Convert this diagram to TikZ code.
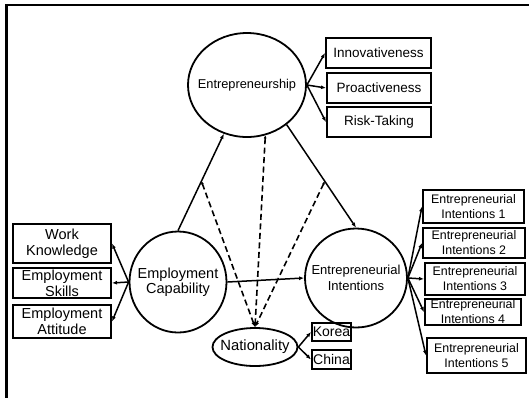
\documentclass[tikz,border=0pt]{standalone}
\usepackage{fontspec}
\setmainfont{Liberation Sans}
\usetikzlibrary{shapes.geometric,arrows.meta}
\tikzset{
latent/.style={
  ellipse,
  draw,
  line width=1.8pt,
  inner sep=0pt
},
latenttext/.style={
  align=center,
  font=\fontsize{14.5}{15.5}\selectfont
},
indicator/.style={
  rectangle,
  draw,
  line width=2pt,
  inner sep=0pt,
  align=center,
  font=\fontsize{13.5}{15}\selectfont
},
effect/.style={
  -{Latex[length=5pt,width=4pt]},
  line width=1.5pt
},
moderation/.style={
  {Latex[length=3pt,width=3pt]}-{Latex[length=5pt,width=4pt]},
  line width=1.6pt,
  dash pattern=on 6pt off 3.5pt
}
}

\begin{document}
\begin{tikzpicture}[x=1pt, y=-1pt]
\useasboundingbox (0,0) rectangle (529,397);

% frame
\draw[line width=2.2pt] (540,5) -- (6.5,5) -- (6.5,405);

% latent variables
\node[latent, minimum width=118pt, minimum height=104pt,
  label={[latenttext, font=\fontsize{12.8}{14}\selectfont]center:Entrepreneurship}] (ent) at (247,85) {};
\node[latent, minimum width=97pt, minimum height=101pt,
  label={[latenttext]center:Employment\\Capability}] (ec) at (178,282) {};
\node[latent, minimum width=102pt, minimum height=99pt,
  label={[latenttext, font=\fontsize{13}{15.5}\selectfont]center:Entrepreneurial\\Intentions}] (ei) at (356,278) {};
\node[latent, minimum width=85pt, minimum height=38pt,
  label={[latenttext, font=\fontsize{14.8}{16}\selectfont]center:Nationality}] (nat) at (255,347) {};

% indicators of entrepreneurship
\node[indicator, minimum width=105pt, minimum height=30pt] (innov) at (378.5,53) {Innovativeness};
\node[indicator, minimum width=104pt, minimum height=30pt] (proact) at (379,88) {Proactiveness};
\node[indicator, minimum width=104pt, minimum height=30pt] (risk) at (379,122) {Risk-Taking};

% indicators of employment capability
\node[indicator, minimum width=98pt, minimum height=39pt, font=\fontsize{14.5}{16}\selectfont] (work) at (62,243.5) {Work\\Knowledge};
\node[indicator, minimum width=98pt, minimum height=30pt, font=\fontsize{14.5}{16}\selectfont] (skills) at (62,283) {Employment\\Skills};
\node[indicator, minimum width=98pt, minimum height=33pt, font=\fontsize{14.5}{16}\selectfont] (attitude) at (62,321.5) {Employment\\Attitude};

% indicators of entrepreneurial intentions
\node[indicator, minimum width=101pt, minimum height=33pt, font=\fontsize{12.4}{15}\selectfont] (eia) at (473.5,206.5) {Entrepreneurial\\Intentions 1};
\node[indicator, minimum width=102pt, minimum height=30pt, font=\fontsize{12.4}{15}\selectfont] (eib) at (474,243) {Entrepreneurial\\Intentions 2};
\node[indicator, minimum width=100pt, minimum height=32pt, font=\fontsize{12.4}{15}\selectfont] (eic) at (475,279) {Entrepreneurial\\Intentions 3};
\node[indicator, minimum width=96pt, minimum height=26pt, font=\fontsize{12.4}{15}\selectfont] (eid) at (473,312) {Entrepreneurial\\Intentions 4};
\node[indicator, minimum width=99pt, minimum height=35pt, font=\fontsize{12.4}{15}\selectfont] (eie) at (476.5,355.5) {Entrepreneurial\\Intentions 5};

% groups
\node[indicator, minimum width=39pt, minimum height=18pt, font=\fontsize{14}{15}\selectfont] (korea) at (331.5,332) {Korea};
\node[indicator, minimum width=39pt, minimum height=19pt, font=\fontsize{14}{15}\selectfont] (china) at (331.5,359.5) {China};

% structural paths
\draw[effect] (ec.north) -- coordinate[pos=0.51] (ecent) (ent);
\draw[effect] (ent.-45) -- coordinate[pos=0.55] (entei) (ei.north);
\draw[effect] (ec.east) -- (ei.west);

% moderation
\draw[moderation] (ecent) -- (nat.north);
\draw[moderation] (ent.290) -- (nat.north);
\draw[moderation] (entei) -- (nat.north);

% measurement
\foreach \ind in {innov,proact,risk}
  \draw[effect] (ent.east) -- (\ind.west);
\foreach \ind in {work,skills,attitude}
  \draw[effect] (ec.west) -- (\ind.east);
\foreach \ind in {eia,eib,eic,eid,eie}
  \draw[effect] (ei.east) -- (\ind.west);
\foreach \ind in {korea,china}
  \draw[effect] (nat.east) -- (\ind.west);

\end{tikzpicture}
\end{document}
